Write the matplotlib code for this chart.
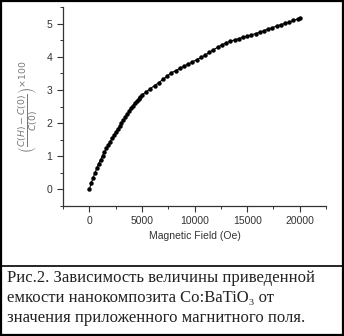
import matplotlib.pyplot as plt
from matplotlib.ticker import MultipleLocator
from matplotlib.patches import Rectangle
from matplotlib.lines import Line2D

# field (Oe) and normalized capacitance change
field = [0, 180, 360, 540, 720, 900, 1080, 1260, 1440, 1620, 1800, 1980,
         2160, 2340, 2520, 2700, 2880, 3060, 3240, 3420, 3600, 3780, 3960,
         4140, 4320, 4500, 4680, 4860, 5040,
         5400, 5800, 6200, 6600, 7000, 7400, 7800, 8200, 8600, 9000, 9400,
         9800, 10200, 10600, 11000, 11400, 11800, 12200, 12600, 13000,
         13400, 13800, 14200, 14600, 15000, 15400, 15800, 16200, 16600,
         17000, 17400, 17800, 18200, 18600, 19000, 19400, 19800, 20000]
dC = [0, 0.18, 0.35, 0.50, 0.64, 0.78, 0.90, 1.02, 1.13, 1.24, 1.34, 1.44,
      1.54, 1.64, 1.73, 1.82, 1.91, 2.00, 2.09, 2.18, 2.27, 2.36, 2.45,
      2.53, 2.60, 2.67, 2.74, 2.80, 2.86,
      2.94, 3.04, 3.13, 3.22, 3.32, 3.42, 3.52, 3.58, 3.65, 3.72, 3.78,
      3.85, 3.91, 3.98, 4.05, 4.13, 4.21, 4.29, 4.36, 4.42,
      4.47, 4.51, 4.55, 4.59, 4.62, 4.66, 4.70, 4.74, 4.79,
      4.84, 4.88, 4.93, 4.97, 5.01, 5.05, 5.10, 5.14, 5.17]

xticks = [0, 5000, 10000, 15000, 20000]
yticks = [0, 1, 2, 3, 4, 5]

caption = ["Рис.2. Зависимость величины приведенной",
           "емкости нанокомпозита Co:BaTiO₃ от",
           "значения приложенного магнитного поля."]

fig = plt.figure(figsize=(3.44, 3.36), dpi=100)
ax = fig.add_axes([0.183, 0.387, 0.765, 0.592])

ax.plot(field, dC, color='black', lw=0.8, marker='o', ms=2.2)

ax.set_xlim(-2500, 22500)
ax.set_ylim(-0.5, 5.5)
ax.set_xticks(xticks)
ax.set_yticks(yticks)
ax.xaxis.set_minor_locator(MultipleLocator(2500))
ax.yaxis.set_minor_locator(MultipleLocator(0.5))
for s in ['top', 'right']:
    ax.spines[s].set_visible(False)
for s in ['left', 'bottom']:
    ax.spines[s].set_color('#333333')
    ax.spines[s].set_linewidth(0.9)
ax.tick_params(which='major', length=4, width=0.8, color='#333333',
               labelsize=7.5, labelcolor='#333333')
ax.tick_params(which='minor', length=2, width=0.7, color='#333333')
for lab in ax.get_xticklabels() + ax.get_yticklabels():
    lab.set_family('Liberation Sans')

ax.set_xlabel('Magnetic Field (Oe)', fontsize=7.5, family='Liberation Sans',
              color='#333333', labelpad=3)
ax.set_ylabel(r'$\left(\frac{C(H)-C(0)}{C(0)}\right)^{\times 100}$',
              fontsize=9.5, color='#777777', labelpad=4)

# caption
fig.add_artist(Line2D([0, 1], [1 - 266 / 336, 1 - 266 / 336],
                      color='black', lw=1.2, transform=fig.transFigure))
ys = [278, 298, 318]
for t, y in zip(caption, ys):
    fig.text(7 / 344, 1 - y / 336, t, fontsize=12, va='center', ha='left',
             family=['Liberation Serif', 'DejaVu Serif'], color='#222222')

# border around the whole picture
fig.add_artist(Rectangle((0.002, 0.002), 0.994, 0.994, fill=False,
                         edgecolor='black', lw=1.6, transform=fig.transFigure))

fig.savefig('out.png', dpi=100)
